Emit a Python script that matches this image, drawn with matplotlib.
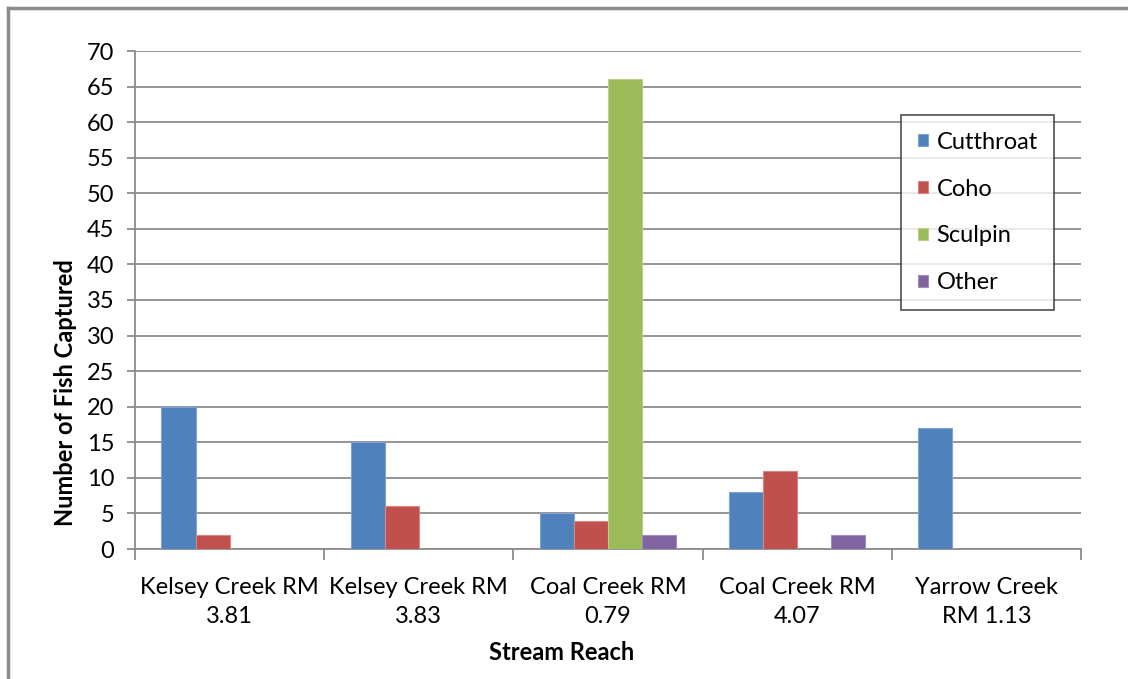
import matplotlib
matplotlib.use("Agg")
import matplotlib.pyplot as plt
from matplotlib.lines import Line2D
import numpy as np

categories = ["Kelsey Creek RM\n3.81", "Kelsey Creek RM\n3.83", "Coal Creek RM\n0.79",
              "Coal Creek RM\n4.07", "Yarrow Creek\nRM 1.13"]
series_names = ["Cutthroat", "Coho", "Sculpin", "Other"]
cutthroat = [20, 15, 5, 8, 17]
coho = [2, 6, 4, 11, 0]
sculpin = [0, 0, 66, 0, 0]
other = [0, 0, 2, 2, 0]
y_ticks = list(range(0, 71, 5))

colors = ["#4F81BD", "#C0504D", "#9BBB59", "#8064A2"]
edges = ["#7FA3D3", "#D98583", "#B7D18A", "#A08CBF"]

plt.rcParams['font.family'] = ['Lato', 'DejaVu Sans']
FS = 17

W, H = 1128, 679
fig = plt.figure(figsize=(W / 100, H / 100), dpi=100)
ax = fig.add_axes([135 / W, 1 - 549 / H, (1081 - 135) / W, (549 - 51) / H])

x = np.arange(len(categories))
bw = 0.18
data = [cutthroat, coho, sculpin, other]
for i, (vals, name) in enumerate(zip(data, series_names)):
    ax.bar(x - 1.5 * bw + i * bw, vals, width=bw, color=colors[i], edgecolor=edges[i],
           linewidth=0.8, label=name, zorder=3)

ax.set_xlim(-0.5, len(categories) - 0.5)
ax.set_ylim(0, 70)
ax.set_yticks(y_ticks)
ax.set_yticklabels([str(v) for v in y_ticks], fontsize=FS)
ax.yaxis.grid(True, color="#8C8C8C", linewidth=1.3, zorder=0)
ax.set_axisbelow(True)

ax.set_xticks(x)
ax.set_xticklabels(categories, fontsize=FS, linespacing=1.5)
ax.set_xticks(np.arange(-0.5, len(categories), 1), minor=True)
ax.tick_params(axis='x', which='major', length=0, pad=20)
ax.tick_params(axis='x', which='minor', length=8, width=1.3, color="#8C8C8C", direction='out')
ax.tick_params(axis='y', length=6, width=1.3, color="#8C8C8C", pad=9)

for s in ['top', 'right']:
    ax.spines[s].set_visible(False)
for s in ['left', 'bottom']:
    ax.spines[s].set_color("#8C8C8C")
    ax.spines[s].set_linewidth(1.3)

ax.set_ylabel("Number of Fish Captured", fontsize=FS, fontweight='bold')
ax.yaxis.set_label_coords((77 - 135) / 946, (549 - 393) / 498)
ax.set_xlabel("Stream Reach", fontsize=FS, fontweight='bold')
ax.xaxis.set_label_coords((562 - 135) / 946, (549 - 641) / 498)

leg = ax.legend(loc='upper left', bbox_to_anchor=(901 / W, 1 - 115 / H),
                bbox_transform=fig.transFigure, fontsize=FS, frameon=True, fancybox=False,
                borderaxespad=0, handlelength=0.45, handleheight=0.45, handletextpad=0.35,
                labelspacing=1.1, borderpad=0.7)
leg.get_frame().set_edgecolor("#222222")
leg.get_frame().set_linewidth(1.2)

# chart-area border
fig.add_artist(Line2D([8 / W, 8 / W], [0, 1 - 8 / H], transform=fig.transFigure,
                      color="#8C8C8C", linewidth=2.5))
fig.add_artist(Line2D([8 / W, 1], [1 - 8 / H, 1 - 8 / H], transform=fig.transFigure,
                      color="#8C8C8C", linewidth=2.5))

fig.savefig("out.png", dpi=100)
